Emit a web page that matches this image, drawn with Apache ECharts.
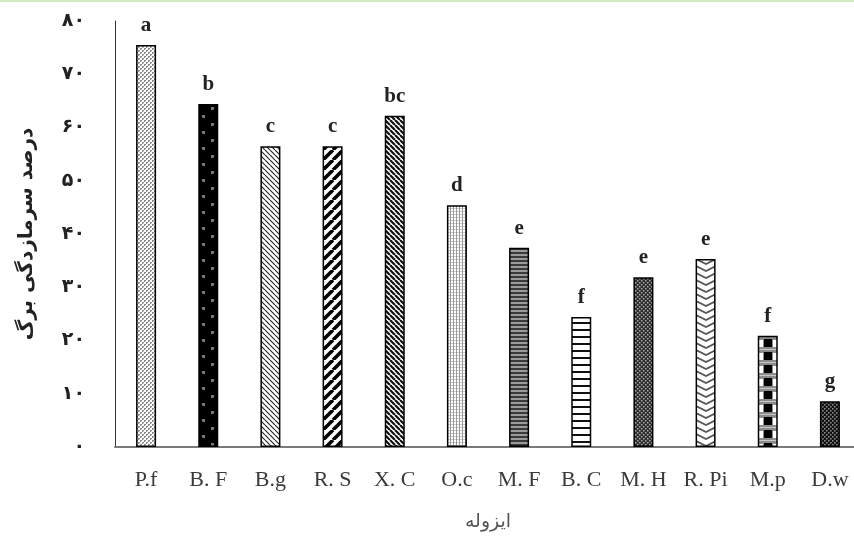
<!DOCTYPE html>
<html>
<head>
<meta charset="utf-8">
<script src="https://cdn.jsdelivr.net/npm/echarts@6/dist/echarts.min.js"></script>
<style>
html,body{margin:0;padding:0;background:#fff;}
#c{width:854px;height:536px;}
</style>
</head>
<body>
<div id="c"></div>
<script>
var categories = ['P.f', 'B. F', 'B.g', 'R. S', 'X. C', 'O.c', 'M. F', 'B. C', 'M. H', 'R. Pi', 'M.p', 'D.w'];
var values = [75.5, 64.4, 56.5, 56.5, 62.2, 45.4, 37.4, 24.4, 31.9, 35.3, 20.9, 8.6];
var letters = ['a', 'b', 'c', 'c', 'bc', 'd', 'e', 'f', 'e', 'e', 'f', 'g'];
var yTickLabels = ['۰', '۱۰', '۲۰', '۳۰', '۴۰', '۵۰', '۶۰', '۷۰', '۸۰'];
var yAxisTitle = 'درصد سرمازدگی برگ';
var xAxisTitle = 'ایزوله';

function tile(w, h, draw) {
  var c = document.createElement('canvas');
  c.width = w; c.height = h;
  var g = c.getContext('2d');
  draw(g, w, h);
  return c;
}
var patterns = [
  tile(4, 4, function (g) { g.fillStyle = '#fff'; g.fillRect(0,0,4,4); g.fillStyle = '#8a8a8a'; g.fillRect(0,0,2,2); g.fillRect(2,2,2,2); g.fillStyle='#d8d8d8'; g.fillRect(1,1,1,1); g.fillRect(3,3,1,1);}),
  tile(20, 16, function (g) { g.fillStyle = '#000'; g.fillRect(0,0,20,16); g.fillStyle = '#777'; g.fillRect(4,3,3,3); g.fillRect(13,11,3,3);}),
  tile(5, 5, function (g) { g.fillStyle = '#fff'; g.fillRect(0,0,5,5); g.strokeStyle = '#222'; g.lineWidth = 1.1; g.beginPath(); for (var k=-5;k<=10;k+=5){g.moveTo(k,0); g.lineTo(k+5,5);} g.stroke();}),
  tile(10, 10, function (g) { g.fillStyle = '#fff'; g.fillRect(0,0,10,10); g.strokeStyle = '#000'; g.lineWidth = 3.6; g.beginPath(); for (var k=-10;k<=20;k+=10){g.moveTo(k,10); g.lineTo(k+10,0);} g.stroke();}),
  tile(5, 5, function (g) { g.fillStyle = '#fff'; g.fillRect(0,0,5,5); g.strokeStyle = '#111'; g.lineWidth = 2.2; g.beginPath(); for (var k=-5;k<=10;k+=5){g.moveTo(k,0); g.lineTo(k+5,5);} g.stroke();}),
  tile(3, 3, function (g) { g.fillStyle = '#fff'; g.fillRect(0,0,3,3); g.fillStyle = '#9a9a9a'; g.fillRect(0,0,1,3); g.fillStyle='#c8c8c8'; g.fillRect(1,1,2,1);}),
  tile(4, 4, function (g) { g.fillStyle = '#9a9a9a'; g.fillRect(0,0,4,4); g.fillStyle = '#3a3a3a'; g.fillRect(0,0,4,2);}),
  tile(4, 7, function (g) { g.fillStyle = '#fff'; g.fillRect(0,0,4,7); g.fillStyle = '#111'; g.fillRect(0,0,4,2);}),
  tile(4, 4, function (g) { g.fillStyle = '#2e2e2e'; g.fillRect(0,0,4,4); g.fillStyle = '#a8a8a8'; g.fillRect(0,0,1.5,1.5); g.fillRect(2,2,1.5,1.5);}),
  tile(20, 7, function (g) { g.fillStyle = '#fff'; g.fillRect(0,0,20,7); g.strokeStyle = '#555'; g.lineWidth = 1.8; g.beginPath(); g.moveTo(0,0); g.lineTo(10,5); g.lineTo(20,0); g.moveTo(0,7); g.lineTo(10,12); g.lineTo(20,7); g.moveTo(0,-7); g.lineTo(10,-2); g.lineTo(20,-7); g.stroke();}),
  tile(20, 13, function (g) { g.fillStyle = '#8c8c8c'; g.fillRect(0,0,20,13); g.fillStyle='#fff'; g.fillRect(0,2,5,7); g.fillRect(15,2,5,7); g.fillStyle = '#000'; g.fillRect(6,1,8,8); g.fillStyle='#c8c8c8'; g.fillRect(0,11,20,1);}),
  tile(4, 4, function (g) { g.fillStyle = '#111'; g.fillRect(0,0,4,4); g.fillStyle = '#8a8a8a'; g.fillRect(0,0,1.6,1.6); g.fillRect(2,2,1.6,1.6);})
];

var chart = echarts.init(document.getElementById('c'), null, {renderer: 'canvas'});

function buildData(offsets) {
  return values.map(function (v, i) {
    var col = {image: patterns[i], repeat: 'repeat'};
    if (offsets) { col.x = offsets[i]; col.y = 0; }
    return {
      value: v,
      itemStyle: {color: col, borderColor: '#000', borderWidth: 1.5},
      label: {formatter: letters[i]}
    };
  });
}

var option = {
  animation: false,
  backgroundColor: '#fff',
  graphic: [{type: 'rect', shape: {x: 0, y: 0, width: 854, height: 2}, style: {fill: '#d2ecc2'}, silent: true}],
  grid: {left: 115, right: -7, top: 21, bottom: 89, containLabel: false, outerBoundsMode: 'none'},
  xAxis: {
    type: 'category',
    data: categories,
    axisLine: {lineStyle: {color: '#7a7a7a', width: 2}},
    axisTick: {show: false},
    axisLabel: {fontFamily: 'Liberation Serif', fontSize: 22, color: '#3a3a3a', margin: 22},
    name: xAxisTitle,
    nameLocation: 'middle',
    nameGap: 66,
    nameTextStyle: {fontFamily: 'DejaVu Sans', fontSize: 19, color: '#555'}
  },
  yAxis: {
    type: 'value',
    min: 0, max: 80, interval: 10,
    axisLine: {show: true, lineStyle: {color: '#333', width: 1}},
    axisTick: {show: false},
    splitLine: {show: false},
    axisLabel: {
      fontFamily: 'DejaVu Sans', fontSize: 19, fontWeight: 'bold', color: '#222', margin: 30,
      formatter: function (v) { return yTickLabels[Math.round(v / 10)]; }
    },
    name: yAxisTitle,
    nameLocation: 'middle',
    nameGap: 78,
    nameRotate: 90,
    nameTextStyle: {fontFamily: 'DejaVu Sans', fontSize: 20, fontWeight: 'bold', color: '#222'}
  },
  series: [{
    type: 'bar',
    data: buildData(null),
    barWidth: 20,
    label: {show: true, position: 'top', distance: 9, fontFamily: 'Liberation Serif', fontWeight: 'bold', fontSize: 21, color: '#222'}
  }]
};
chart.setOption(option);
var offsets = categories.map(function (c, i) {
  var px = chart.convertToPixel({xAxisIndex: 0}, i);
  return Math.round(px - 10);
});
chart.setOption({series: [{data: buildData(offsets)}]});
</script>
</body>
</html>
